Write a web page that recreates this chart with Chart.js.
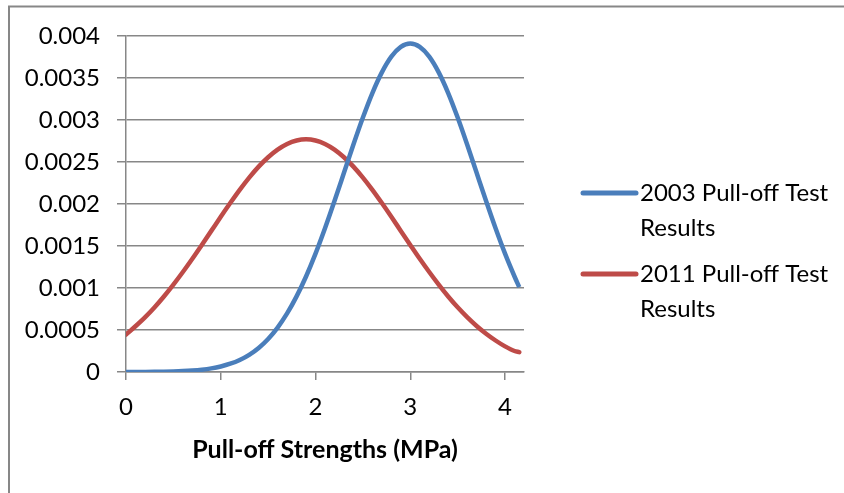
<!DOCTYPE html>
<html>
<head>
<meta charset="utf-8">
<script src="https://cdn.jsdelivr.net/npm/chart.js@4/dist/chart.umd.min.js"></script>
<style>
  html, body { margin: 0; padding: 0; background: #ffffff; }
  #wrap { width: 844px; height: 493px; position: relative; }
</style>
</head>
<body>
<div id="wrap"><canvas id="c" width="844" height="493"></canvas></div>
<script>
// ---- Data ----
const xValues = [0, 0.1, 0.2, 0.3, 0.4, 0.5, 0.6, 0.7, 0.8, 0.9,
                 1.0, 1.1, 1.2, 1.3, 1.4, 1.5, 1.6, 1.7, 1.8, 1.9,
                 2.0, 2.1, 2.2, 2.3, 2.4, 2.5, 2.6, 2.7, 2.8, 2.9,
                 3.0, 3.1, 3.2, 3.3, 3.4, 3.5, 3.6, 3.7, 3.8, 3.9,
                 4.0, 4.1, 4.15];

const series2003 = [0.0000004, 0.0000007, 0.0000013, 0.0000023, 0.0000040, 0.0000066, 0.0000109, 0.0000177, 0.0000280, 0.0000434,
                    0.0000660, 0.0000983, 0.0001434, 0.0002048, 0.0002869, 0.0003937, 0.000529, 0.000697, 0.000900, 0.001137,
                    0.001409, 0.001711, 0.002035, 0.002371, 0.002708, 0.003029, 0.003321, 0.003567, 0.003754, 0.003870,
                    0.003910, 0.003870, 0.003754, 0.003567, 0.003321, 0.003029, 0.002708, 0.002371, 0.002035, 0.001711,
                    0.001409, 0.001137, 0.001010];

const series2011 = [0.000445, 0.000545, 0.000651, 0.000769, 0.000899, 0.001040, 0.001190, 0.001348, 0.001513, 0.001680,
                    0.001848, 0.002011, 0.002168, 0.002314, 0.002445, 0.002557, 0.002648, 0.002715, 0.002756, 0.002770,
                    0.002756, 0.002715, 0.002648, 0.002557, 0.002445, 0.002314, 0.002168, 0.002011, 0.001848, 0.001680,
                    0.001513, 0.001348, 0.001190, 0.001040, 0.000899, 0.000770, 0.000653, 0.000548, 0.000456, 0.000375,
                    0.000305, 0.000250, 0.000236];

const seriesLabels = ['2003 Pull-off Test Results', '2011 Pull-off Test Results'];
const legendLines = [['2003 Pull-off Test', 'Results'], ['2011 Pull-off Test', 'Results']];
const yTickValues = [0, 0.0005, 0.001, 0.0015, 0.002, 0.0025, 0.003, 0.0035, 0.004];
const yTickLabels = ['0', '0.0005', '0.001', '0.0015', '0.002', '0.0025', '0.003', '0.0035', '0.004'];
const xTickLabels = ['0', '1', '2', '3', '4'];
const xTitle = 'Pull-off Strengths (MPa)';

// ---- Styling ----
const FONT = 'Lato, "Open Sans", sans-serif';
const GRID = '#878787';
const BLUE = '#4a7ebb';
const RED = '#be4b48';

function toPoints(xs, ys) { return xs.map((x, i) => ({ x: x, y: ys[i] })); }

const framePlugin = {
  id: 'frame',
  beforeDraw(chart) {
    const ctx = chart.ctx;
    ctx.save();
    ctx.fillStyle = '#ffffff';
    ctx.fillRect(0, 0, chart.width, chart.height);
    ctx.strokeStyle = GRID;
    ctx.lineWidth = 2;
    ctx.beginPath();
    ctx.moveTo(9, chart.height + 5);
    ctx.lineTo(9, 6.5);
    ctx.lineTo(chart.width + 5, 6.5);
    ctx.stroke();
    ctx.restore();
  }
};

const legendPlugin = {
  id: 'customLegend',
  afterDraw(chart) {
    const ctx = chart.ctx;
    ctx.save();
    const items = [
      { color: BLUE, y: 193, lines: legendLines[0] },
      { color: RED, y: 274, lines: legendLines[1] }
    ];
    items.forEach(it => {
      ctx.strokeStyle = it.color;
      ctx.lineWidth = 5;
      ctx.lineCap = 'round';
      ctx.beginPath();
      ctx.moveTo(583, it.y);
      ctx.lineTo(636, it.y);
      ctx.stroke();
      ctx.fillStyle = '#000000';
      ctx.font = '24px ' + FONT;
      ctx.textBaseline = 'middle';
      ctx.textAlign = 'left';
      it.lines.forEach((t, k) => ctx.fillText(t, 640, it.y + k * 35));
    });
    ctx.restore();
  }
};

new Chart(document.getElementById('c'), {
  type: 'scatter',
  data: {
    datasets: [
      {
        label: seriesLabels[0],
        data: toPoints(xValues, series2003),
        showLine: true,
        borderColor: BLUE,
        backgroundColor: BLUE,
        borderWidth: 4.5,
        pointRadius: 0,
        pointHoverRadius: 0,
        cubicInterpolationMode: 'monotone',
        borderCapStyle: 'butt'
      },
      {
        label: seriesLabels[1],
        data: toPoints(xValues, series2011),
        showLine: true,
        borderColor: RED,
        backgroundColor: RED,
        borderWidth: 4.5,
        pointRadius: 0,
        pointHoverRadius: 0,
        cubicInterpolationMode: 'monotone',
        borderCapStyle: 'round'
      }
    ]
  },
  options: {
    responsive: false,
    animation: false,
    events: [],
    layout: { padding: { left: 0, top: 36, right: 320, bottom: 0 } },
    plugins: {
      legend: { display: false },
      tooltip: { enabled: false }
    },
    scales: {
      x: {
        type: 'linear',
        min: 0,
        max: 4.2,
        afterFit(scale) { scale.height = 121; },
        afterBuildTicks(scale) { scale.ticks = xTickLabels.map(v => ({ value: Number(v) })); },
        ticks: {
          stepSize: 1,
          includeBounds: false,
          color: '#000000',
          font: { family: FONT, size: 24 },
          padding: 13,
          maxRotation: 0,
          callback: (v, i) => xTickLabels[i]
        },
        grid: {
          display: true,
          drawOnChartArea: false,
          drawTicks: true,
          tickLength: 8,
          color: GRID,
          lineWidth: 1.5
        },
        border: { display: true, color: GRID, width: 1.5 },
        title: {
          display: true,
          text: xTitle,
          color: '#000000',
          font: { family: FONT, size: 25, weight: 'bold' },
          padding: { top: 12, bottom: 28 }
        }
      },
      y: {
        type: 'linear',
        min: 0,
        max: 0.004,
        afterFit(scale) { scale.width = 126; },
        afterBuildTicks(scale) { scale.ticks = yTickValues.map(v => ({ value: v })); },
        ticks: {
          color: '#000000',
          font: { family: FONT, size: 24 },
          padding: 17,
          callback: (v, i) => yTickLabels[i]
        },
        grid: {
          display: true,
          drawOnChartArea: true,
          drawTicks: true,
          tickLength: 9,
          color: GRID,
          lineWidth: 1.5
        },
        border: { display: true, color: GRID, width: 1.5 }
      }
    }
  },
  plugins: [framePlugin, legendPlugin]
});
</script>
</body>
</html>
